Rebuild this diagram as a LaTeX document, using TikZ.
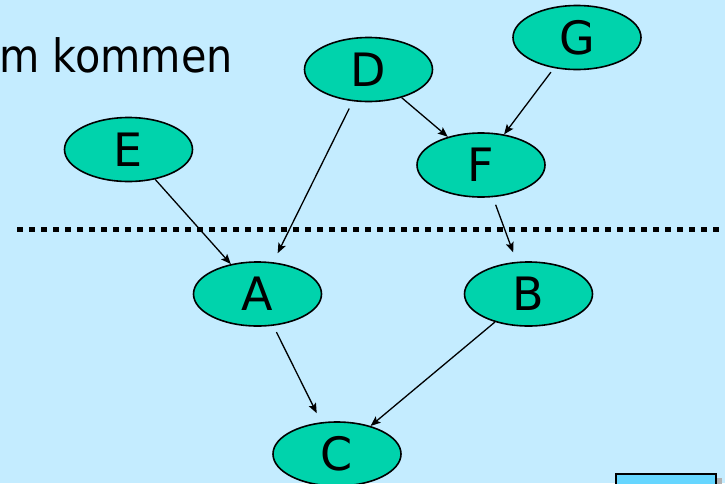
\documentclass[tikz,border=0pt]{standalone}
\usepackage{fontspec}
\setmainfont{DejaVu Sans}
\usetikzlibrary{arrows.meta,shapes.geometric}
\definecolor{bgblue}{RGB}{196,236,255}
\definecolor{nodegreen}{RGB}{0,211,172}
\definecolor{boxblue}{RGB}{102,214,255}
\begin{document}
\begin{tikzpicture}[x=1pt,y=-1pt,
  ev/.style={ellipse,draw=black,line width=1.6pt,fill=nodegreen,minimum width=128pt,minimum height=64pt,inner sep=0pt,font=\fontsize{46}{50}\selectfont},
  edge/.style={line width=1.3pt,-{Stealth[length=10pt,width=8pt,inset=2pt]}}]
\useasboundingbox (0,0) rectangle (725,483);
\clip (0,0) rectangle (725,483);
\fill[bgblue] (0,0) rectangle (725,483);
% top text
\node[anchor=base west,inner sep=0pt,xscale=0.9,font=\fontsize{46}{50}\selectfont] (title) at (-1,72) {m kommen};
% dotted separator
\coordinate (sl) at (17,229);
\coordinate (sr) at (725,229);
\draw[line width=5pt,dash pattern=on 6pt off 6pt] (sl) -- (sr);
% nodes
\node[ev] (D) at (368.5,69.5) {\raisebox{-3pt}{D}};
\node[ev] (G) at (577,37.5) {\raisebox{-3pt}{G}};
\node[ev] (E) at (128.5,149.5) {\raisebox{-3pt}{E}};
\node[ev] (F) at (481,165) {\raisebox{-3pt}{F}};
\node[ev] (A) at (257.5,294) {\raisebox{-3pt}{A}};
\node[ev] (B) at (528.5,294) {\raisebox{-3pt}{B}};
\node[ev] (C) at (337,454) {\raisebox{-3pt}{C}};
% edges
\draw[edge] (E) -- (A);
\draw[edge,shorten <=8pt,shorten >=10pt] (D) -- (A);
\draw[edge] (D) -- (F);
\draw[edge,shorten <=5pt] (G) -- (F);
\draw[edge,shorten <=8pt,shorten >=10pt] (F) -- (B);
\draw[edge,shorten <=7pt,shorten >=10pt] (A) -- (C);
\draw[edge] (B) -- (C);
% bottom-right box
\fill[gray!60] (716,478) rectangle (722,490);
\node[draw=black,line width=2pt,fill=boxblue,anchor=north west,minimum width=100pt,minimum height=30pt,inner sep=0pt] (box) at (615,473) {};
\end{tikzpicture}
\end{document}
